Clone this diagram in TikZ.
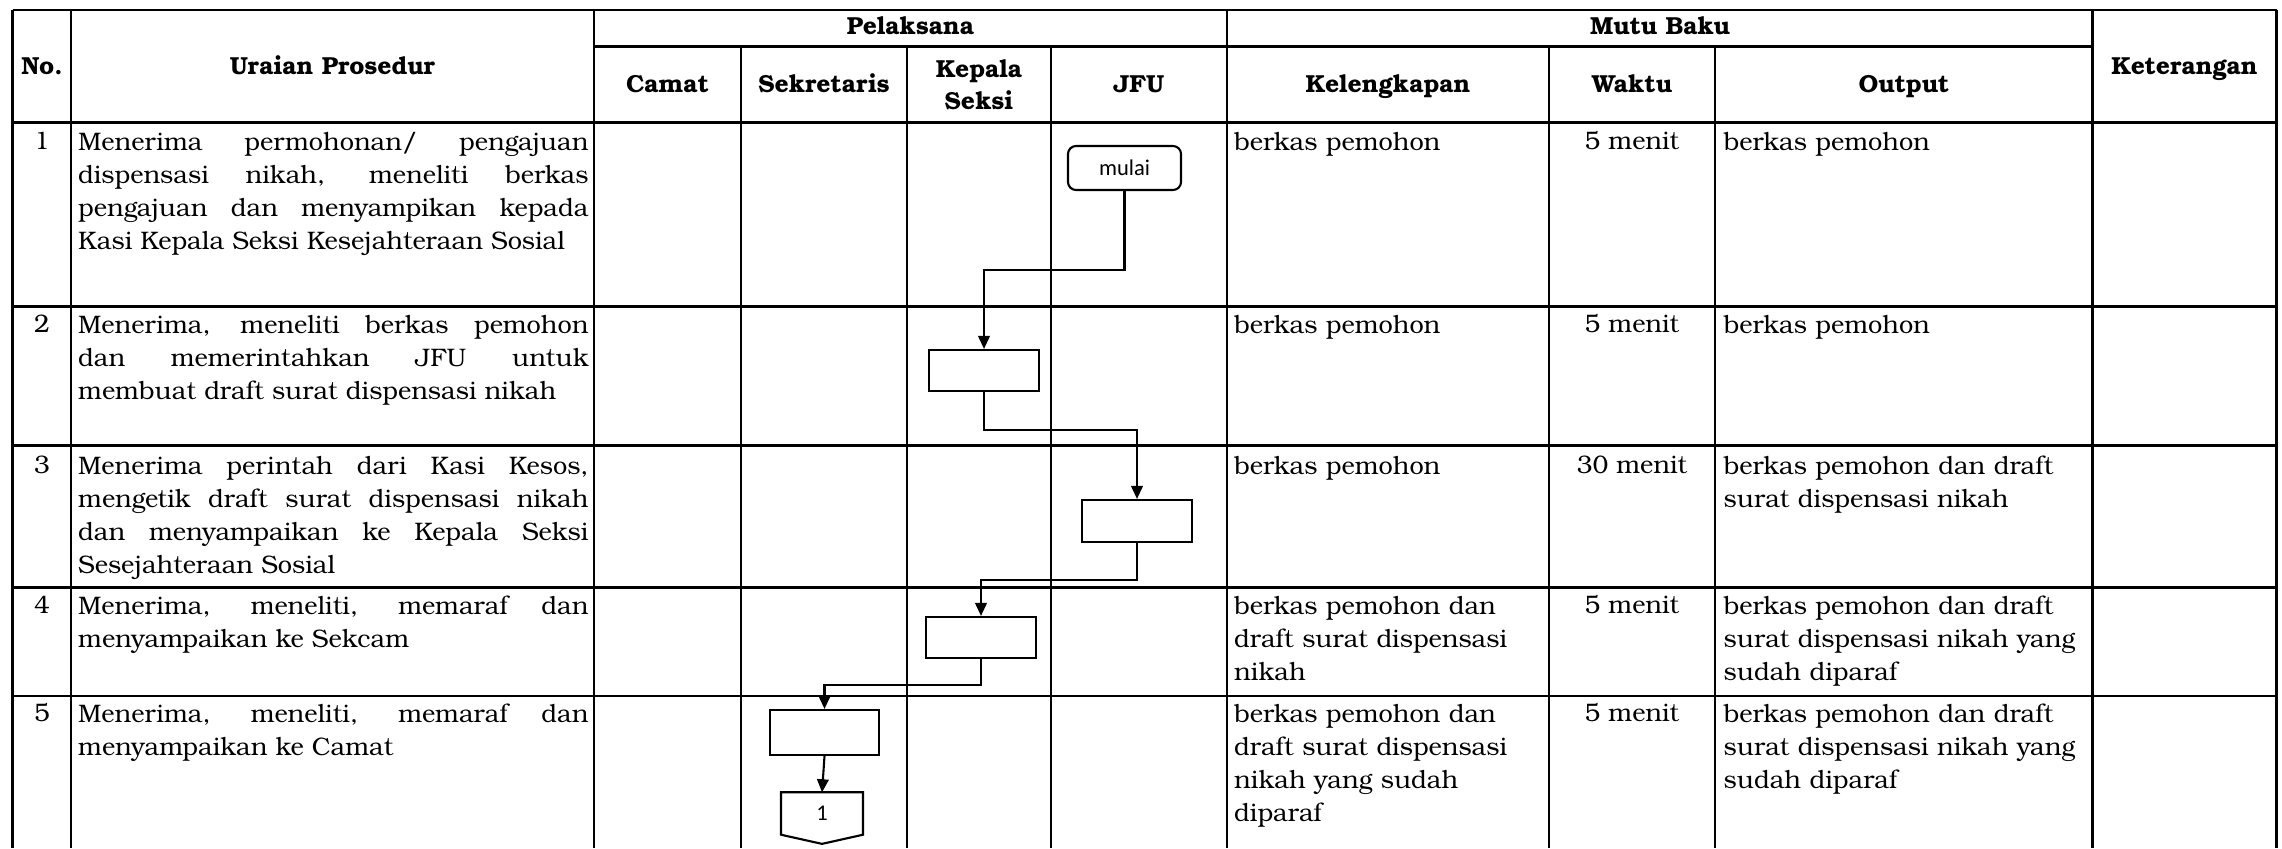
\documentclass[tikz,border=0pt]{standalone}
\usepackage{fontspec}
\setmainfont{TeX Gyre Bonum}
\newfontfamily\alurfont{Carlito}
\usetikzlibrary{arrows.meta}
\newcommand\isi{\fontsize{7.2}{9.45}\selectfont}
\newcommand\judul{\fontsize{7}{9.1}\selectfont\bfseries}
\newcommand\kecil{\alurfont\fontsize{6.4}{7}\selectfont}

\begin{document}
\begin{tikzpicture}[x=0.01cm,y=-0.01cm]
        \tikzstyle{every node}+=[inner sep=0pt]
        \tikzstyle{garis}=[black,line width=0.7pt]
        \tikzstyle{kotak}=[draw=black,line width=0.6pt,minimum width=1.1cm,minimum height=0.41cm]
        \tikzstyle{alur}=[black,line width=0.6pt,-{Triangle[length=3.7pt,width=3.3pt]}]
        \tikzstyle{judul}=[font=\judul,anchor=base]
        \tikzstyle{uraian}=[font=\isi,anchor=base west,text width=5.1cm,align=justify]
        \tikzstyle{sel}=[font=\isi,anchor=base west,text width=3.6cm,align=left]
        \tikzstyle{nomor}=[font=\isi,anchor=base]
        \useasboundingbox (0,0) rectangle (2282,848);
        \draw [garis] (12.7,10) -- (2276.5,10);
        \draw [garis] (594,46.7) -- (2092.5,46.7);
        \draw [garis] (12.7,122.3) -- (2276.5,122.3);
        \draw [garis] (12.7,306.5) -- (2276.5,306.5);
        \draw [garis] (12.7,445.5) -- (2276.5,445.5);
        \draw [garis] (12.7,587.5) -- (2276.5,587.5);
        \draw [garis] (12.7,696) -- (2276.5,696);
        \draw [garis] (12.7,10) -- (12.7,848);
        \draw [garis] (71,10) -- (71,848);
        \draw [garis] (594,10) -- (594,848);
        \draw [garis] (741,46.7) -- (741,848);
        \draw [garis] (907,46.7) -- (907,848);
        \draw [garis] (1051,46.7) -- (1051,848);
        \draw [garis] (1227,10) -- (1227,848);
        \draw [garis] (1549,46.7) -- (1549,848);
        \draw [garis] (1715,46.7) -- (1715,848);
        \draw [garis] (2092.5,10) -- (2092.5,848);
        \draw [garis] (2276.5,10) -- (2276.5,848);
        \draw (42,74) node (hNo) [judul] {No.};
        \draw (332.5,74) node (hUraian) [judul] {Uraian Prosedur};
        \draw (910.5,34.3) node (hPelaksana) [judul] {Pelaksana};
        \draw (1660,34.3) node (hMutu) [judul] {Mutu Baku};
        \draw (2184.5,74) node (hKet) [judul] {Keterangan};
        \draw (667.5,92.7) node (hCamat) [judul] {Camat};
        \draw (824,92.7) node (hSekretaris) [judul] {Sekretaris};
        \draw (979,77.3) node (hKasi) [judul,text width=1.4cm,align=center] {Kepala\\Seksi};
        \draw (1139,92.7) node (hJFU) [judul] {JFU};
        \draw (1388,92.7) node (hKelengkapan) [judul] {Kelengkapan};
        \draw (1632,92.7) node (hWaktu) [judul] {Waktu};
        \draw (1904,92.7) node (hOutput) [judul] {Output};
        \draw (42,149) node (n1) [nomor] {1};
        \draw (42,332.5) node (n2) [nomor] {2};
        \draw (42,473) node (n3) [nomor] {3};
        \draw (42,613) node (n4) [nomor] {4};
        \draw (42,721) node (n5) [nomor] {5};
        \draw (77.5,150) node (u1) [uraian] {Menerima permohonan/ pengajuan\linebreak dispensasi nikah, meneliti berkas\linebreak pengajuan dan menyampikan kepada\linebreak Kasi Kepala Seksi Kesejahteraan Sosial};
        \draw (77.5,333.5) node (u2) [uraian] {Menerima, meneliti berkas pemohon\linebreak dan memerintahkan JFU untuk\linebreak membuat draft surat dispensasi nikah};
        \draw (77.5,474) node (u3) [uraian] {Menerima perintah dari Kasi Kesos,\linebreak mengetik draft surat dispensasi nikah\linebreak dan menyampaikan ke Kepala Seksi\linebreak Sesejahteraan Sosial};
        \draw (77.5,614) node (u4) [uraian] {Menerima, meneliti, memaraf dan\linebreak menyampaikan ke Sekcam};
        \draw (77.5,722) node (u5) [uraian] {Menerima, meneliti, memaraf dan\linebreak menyampaikan ke Camat};
        \draw (1233.5,150) node (k1) [sel] {berkas pemohon};
        \draw (1233.5,333.5) node (k2) [sel] {berkas pemohon};
        \draw (1233.5,474) node (k3) [sel] {berkas pemohon};
        \draw (1233.5,614) node (k4) [sel] {berkas pemohon dan\\draft surat dispensasi\\nikah};
        \draw (1233.5,722) node (k5) [sel] {berkas pemohon dan\\draft surat dispensasi\\nikah yang sudah\\diparaf};
        \draw (1632,149) node (w1) [nomor] {5 menit};
        \draw (1632,332.5) node (w2) [nomor] {5 menit};
        \draw (1632,473) node (w3) [nomor] {30 menit};
        \draw (1632,613) node (w4) [nomor] {5 menit};
        \draw (1632,721) node (w5) [nomor] {5 menit};
        \draw (1723,150) node (o1) [sel] {berkas pemohon};
        \draw (1723,333.5) node (o2) [sel] {berkas pemohon};
        \draw (1723,474) node (o3) [sel] {berkas pemohon dan draft\\surat dispensasi nikah};
        \draw (1723,614) node (o4) [sel] {berkas pemohon dan draft\\surat dispensasi nikah yang\\sudah diparaf};
        \draw (1723,722) node (o5) [sel] {berkas pemohon dan draft\\surat dispensasi nikah yang\\sudah diparaf};
        \draw (1124.5,168) node (mulai) [kotak,rounded corners=2.3pt,minimum width=1.13cm,minimum height=0.44cm,font=\kecil] {mulai};
        \draw (984,370.5) node (kasi1) [kotak] {};
        \draw (1137,521) node (jfu1) [kotak,minimum height=0.42cm] {};
        \draw (981,637.5) node (kasi2) [kotak] {};
        \draw (824.5,732.5) node (sek1) [kotak,minimum width=1.09cm,minimum height=0.45cm] {};
        \draw (822,813.5) node (hal) [minimum width=0.805cm,minimum height=0.41cm,font=\kecil] {1};
        \draw [black,line width=0.6pt] (hal.north west) -- (hal.north east) -- (hal.south east) -- ([yshift=-2.6pt]hal.south) -- (hal.south west) -- cycle;
        \draw [alur] (mulai.south) -- ++(0,79) -| (kasi1.north);
        \draw [alur] (kasi1.south) -- ++(0,38) -| (jfu1.north);
        \draw [alur] (jfu1.south) -- ++(0,37) -| (kasi2.north);
        \draw [alur] (kasi2.south) -- ++(0,26) -| (sek1.north);
        \draw [alur] (sek1.south) -- (hal.north);
\end{tikzpicture}
\end{document}
